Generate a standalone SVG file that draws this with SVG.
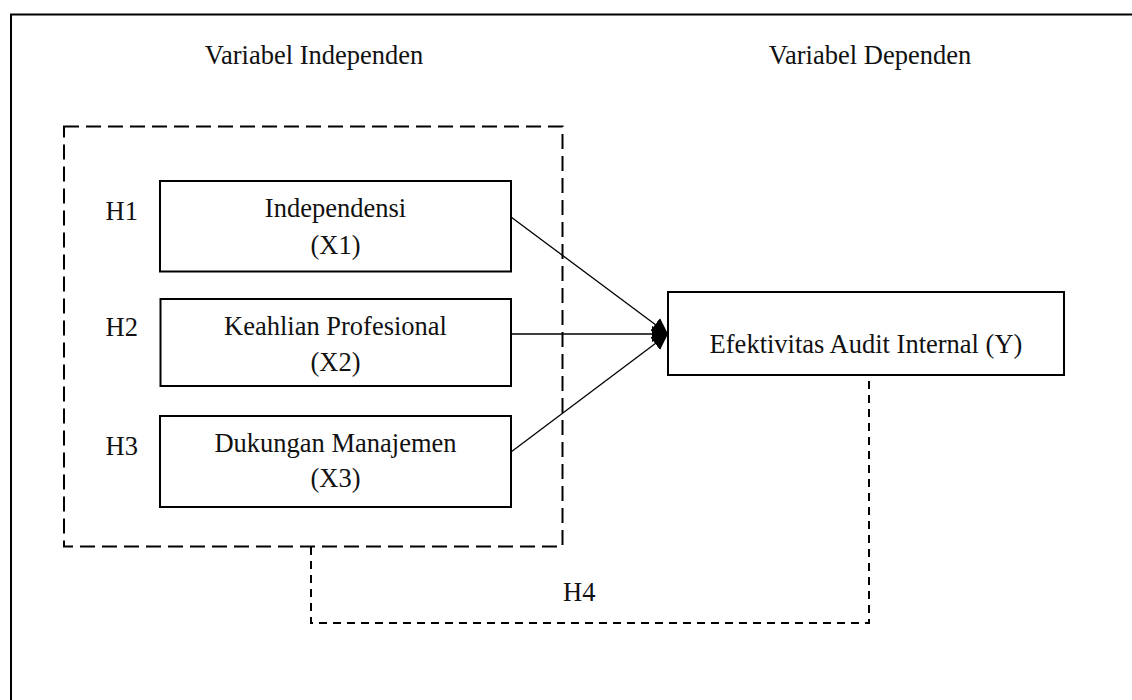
<svg xmlns="http://www.w3.org/2000/svg" width="1132" height="700" viewBox="0 0 1132 700">
  <style>
    text { font-family: "Liberation Serif", "Times New Roman", serif; font-size: 26.5px; fill: #111; }
    .c { text-anchor: middle; }
    .box { fill: #fff; stroke: #000; stroke-width: 2; }
    .conn { stroke: #000; stroke-width: 1.3; fill: none; }
    .group { fill: none; stroke: #000; stroke-width: 2; stroke-dasharray: 15 7; }
    .h4 { fill: none; stroke: #000; stroke-width: 2; stroke-dasharray: 8 6; }
  </style>
  <defs>
    <marker id="arrow" markerUnits="userSpaceOnUse" markerWidth="16" markerHeight="16" refX="16" refY="8" orient="auto">
      <path d="M0,0 L16,8 L0,16 Z" fill="#000"/>
    </marker>
  </defs>
  <rect x="0" y="0" width="1132" height="700" fill="#fff"/>
  <rect id="frame" x="11" y="14.5" width="1140" height="720" fill="none" stroke="#000" stroke-width="2"/>

  <g id="headers">
    <text class="c" x="314" y="64">Variabel Independen</text>
    <text class="c" x="870" y="64">Variabel Dependen</text>
  </g>

  <g id="independent-group">
    <rect class="group" x="64" y="126.5" width="498.5" height="420"/>
  </g>

  <g id="connectors">
    <line class="conn" x1="511" y1="217" x2="668" y2="334" marker-end="url(#arrow)"/>
    <line class="conn" x1="511" y1="334" x2="668" y2="334" marker-end="url(#arrow)"/>
    <line class="conn" x1="511" y1="452" x2="668" y2="334" marker-end="url(#arrow)"/>
    <polyline class="h4" points="311,547 311,623 869,623 869,377"/>
  </g>

  <g id="node-x1">
    <rect class="box" x="160" y="181" width="351" height="90.5"/>
    <text class="c" x="335.5" y="217">Independensi</text>
    <text class="c" x="335.5" y="254">(X1)</text>
  </g>
  <g id="node-x2">
    <rect class="box" x="160.5" y="299" width="350.5" height="87"/>
    <text class="c" x="335.5" y="335">Keahlian Profesional</text>
    <text class="c" x="335.5" y="371">(X2)</text>
  </g>
  <g id="node-x3">
    <rect class="box" x="160" y="416" width="351" height="91"/>
    <text class="c" x="335.5" y="452">Dukungan Manajemen</text>
    <text class="c" x="335.5" y="487">(X3)</text>
  </g>
  <g id="node-y">
    <rect class="box" x="668" y="292" width="396" height="83"/>
    <text class="c" x="866" y="353">Efektivitas Audit Internal (Y)</text>
  </g>

  <g id="hypotheses">
    <text x="105.5" y="220">H1</text>
    <text x="105.5" y="336">H2</text>
    <text x="105.5" y="455">H3</text>
    <text x="563" y="601">H4</text>
  </g>
</svg>
